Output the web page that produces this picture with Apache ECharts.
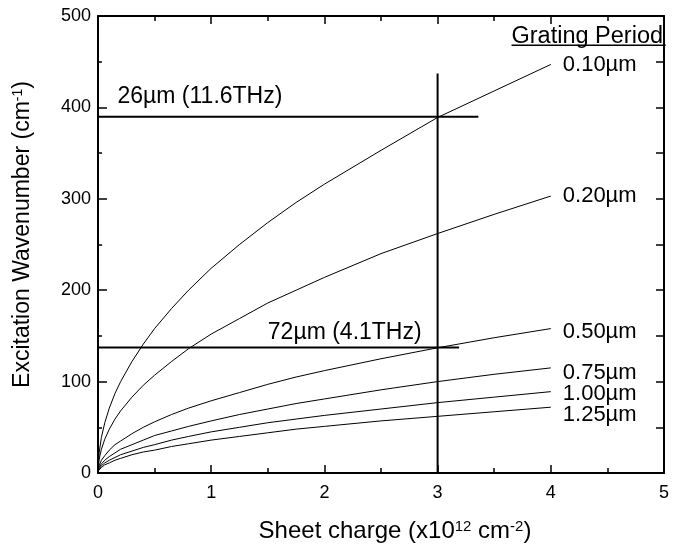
<!DOCTYPE html>
<html>
<head>
<meta charset="utf-8">
<script src="https://cdn.jsdelivr.net/npm/echarts@6/dist/echarts.min.js"></script>
<style>
html,body{margin:0;padding:0;background:#fff;}
#c{width:681px;height:548px;}
</style>
</head>
<body>
<div id="c"></div>
<script>
// ---- data ----
const chargeX   = [0, 0.01, 0.03, 0.06, 0.1, 0.15, 0.2, 0.3, 0.4, 0.5, 0.65, 0.8, 1, 1.25, 1.5, 1.75, 2, 2.5, 3, 3.5, 4];
const period010 = [2, 22, 39, 55, 71, 87, 100, 122, 141, 158, 180, 200, 224, 250, 274, 296, 316, 353, 389, 418, 447];
const period020 = [2, 15, 26, 37, 48, 59, 68, 83, 96, 107, 122, 136, 152, 169, 186, 200, 214, 240, 262, 283, 303];
const period050 = [2, 8, 14, 19, 25, 31, 35, 43, 50, 56, 64, 71, 79, 88, 97, 105, 112, 125, 137, 148, 158];
const period075 = [2, 6, 10, 14, 18, 22, 26, 31, 36, 41, 46, 51, 57, 64, 70, 76, 81, 91, 100, 108, 115];
const period100 = [2, 4, 8, 11, 14, 17, 20, 24, 28, 31, 36, 40, 45, 50, 55, 59, 63, 70, 77, 83, 89];
const period125 = [2, 4, 6, 9, 11, 14, 16, 20, 23, 25, 29, 32, 36, 40, 44, 48, 51, 57, 62, 67, 72];
const periodNames = ['0.10µm', '0.20µm', '0.50µm', '0.75µm', '1.00µm', '1.25µm'];
const periodSeries = [period010, period020, period050, period075, period100, period125];
const labelShift = [0, 0, 3, 5, 2, 8];

const line26 = [[0, 389.7], [3.36, 389.7]];
const line72 = [[0, 137.3], [3.19, 137.3]];
const lineCharge = [[3, 0], [3, 437]];
const annotations = [
  {text: '26µm (11.6THz)', x: 0.172, y: 411.5},
  {text: '72µm (4.1THz)', x: 1.50, y: 153.3}
];
const legendTitle = {text: 'Grating Period', x: 3.653, y: 477.5, underlineY: 467.9, x2: 5.015};

const FONT = '"Liberation Sans", Arial, Helvetica, sans-serif';

const series = periodSeries.map((vals, i) => ({
  name: periodNames[i],
  type: 'line',
  data: chargeX.map((x, j) => [x, vals[j]]),
  symbol: 'none',
  smooth: false,
  lineStyle: {color: '#000', width: 1},
  endLabel: {
    show: true,
    formatter: periodNames[i],
    color: '#000',
    fontFamily: FONT,
    fontSize: 22,
    distance: 12,
    offset: [0, labelShift[i]]
  },
  silent: true,
  z: 3
}));

[line26, line72, lineCharge].forEach(d => {
  series.push({
    type: 'line', data: d, symbol: 'none',
    lineStyle: {color: '#000', width: 2}, silent: true, z: 4
  });
});

const axisCommon = {
  axisLine: {show: true, onZero: false, lineStyle: {color: '#000', width: 2}},
  splitLine: {show: false},
  minorSplitLine: {show: false}
};

const option = {
  backgroundColor: '#fff',
  animation: false,
  grid: {left: 98, top: 16, width: 566, height: 458, containLabel: false},
  xAxis: [
    Object.assign({}, axisCommon, {
      type: 'value', min: 0, max: 5, interval: 1, position: 'bottom',
      axisTick: {show: true, inside: true, length: 8, lineStyle: {color: '#000', width: 1.5}},
      minorTick: {show: true, splitNumber: 2, length: 5, lineStyle: {color: '#000', width: 1.5}},
      axisLabel: {color: '#000', fontFamily: FONT, fontSize: 18, margin: 11},
      name: 'Sheet charge (x10{s|12} cm{s|-2})',
      nameLocation: 'middle',
      nameGap: 46,
      nameTextStyle: {
        color: '#000', fontFamily: FONT, fontSize: 24, padding: [0, 0, 0, 28],
        rich: {s: {fontSize: 15, fontFamily: FONT, color: '#000', verticalAlign: 'top', lineHeight: 15}}
      }
    }),
    Object.assign({}, axisCommon, {
      type: 'value', min: 0, max: 5, interval: 1, position: 'top',
      axisTick: {show: true, inside: true, length: 8, lineStyle: {color: '#000', width: 1.5}},
      minorTick: {show: true, splitNumber: 2, length: 5, lineStyle: {color: '#000', width: 1.5}},
      axisLabel: {show: false}
    })
  ],
  yAxis: [
    Object.assign({}, axisCommon, {
      type: 'value', min: 0, max: 500, interval: 100, position: 'left',
      axisTick: {show: true, inside: true, length: 9, lineStyle: {color: '#000', width: 1.5}},
      minorTick: {show: true, splitNumber: 2, length: 4, lineStyle: {color: '#000', width: 1.5}},
      axisLabel: {color: '#000', fontFamily: FONT, fontSize: 18, margin: 7},
      name: 'Excitation Wavenumber (cm{s|-1})',
      nameLocation: 'middle',
      nameGap: 64,
      nameTextStyle: {
        color: '#000', fontFamily: FONT, fontSize: 23, padding: [0, 0, 0, 20],
        rich: {s: {fontSize: 14, fontFamily: FONT, color: '#000', verticalAlign: 'top', lineHeight: 14}}
      }
    }),
    Object.assign({}, axisCommon, {
      type: 'value', min: 0, max: 500, interval: 50, position: 'right',
      axisTick: {show: true, inside: true, length: 8, lineStyle: {color: '#000', width: 1.5}},
      axisLabel: {show: false}
    })
  ],
  series: series
};

const chart = echarts.init(document.getElementById('c'), null, {renderer: 'canvas'});
chart.setOption(option);

const graphics = annotations.map(a => {
  const p = chart.convertToPixel({gridIndex: 0}, [a.x, a.y]);
  return {
    type: 'text', x: p[0], y: p[1], z: 10,
    style: {text: a.text, fill: '#000', font: '23px ' + FONT, textAlign: 'left', verticalAlign: 'middle'}
  };
});
const tp = chart.convertToPixel({gridIndex: 0}, [legendTitle.x, legendTitle.y]);
graphics.push({
  type: 'text', x: tp[0], y: tp[1], z: 10,
  style: {text: legendTitle.text, fill: '#000', font: '23.5px ' + FONT, textAlign: 'left', verticalAlign: 'middle'}
});
const u1 = chart.convertToPixel({gridIndex: 0}, [legendTitle.x, legendTitle.underlineY]);
const u2 = chart.convertToPixel({gridIndex: 0}, [legendTitle.x2, legendTitle.underlineY]);
graphics.push({
  type: 'line', z: 10,
  shape: {x1: u1[0], y1: u1[1], x2: u2[0], y2: u2[1]},
  style: {stroke: '#000', lineWidth: 1.5}
});
chart.setOption({graphic: graphics});
</script>
</body>
</html>
